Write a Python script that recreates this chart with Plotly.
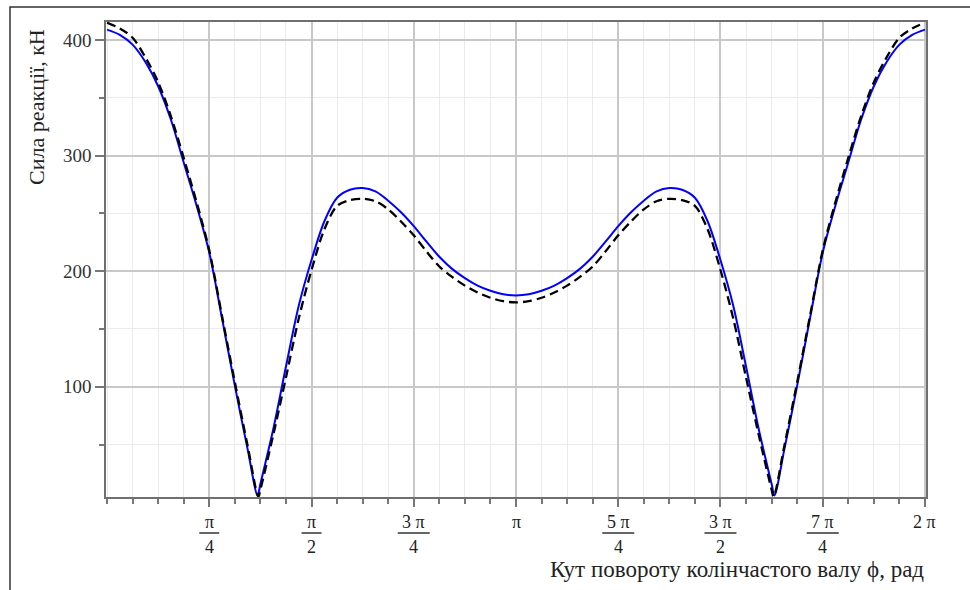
import numpy as np
import plotly.graph_objects as go

# angles in units of pi/32 rad
angle_blue = list(range(0, 12)) + [11.78] + list(range(12, 53)) + [52.22] + list(range(53, 65))
force_blue = [409, 404.5, 396, 381, 360, 331, 294, 257, 216, 159, 101, 46,
              6,
              16, 63, 117.5, 170, 209.6, 243, 263.5, 270.5, 272, 269, 261, 251, 239, 225.5, 212.5, 202,
              194, 187.5, 183, 180, 179,
              180, 183, 187.5, 194, 202, 212.5, 225.5, 239, 251, 261, 269, 272, 270.5, 263.5, 243,
              209.6, 170, 117.5, 63, 16,
              6,
              46, 101, 159, 216, 257, 294, 331, 360, 381, 396, 404.5, 409]

angle_dash = list(range(0, 12)) + [11.84] + list(range(12, 53)) + [52.16] + list(range(53, 65))
force_dash = [415, 410, 402, 385, 363.5, 334, 298, 260, 218, 161, 104, 49,
              5,
              11, 58, 108, 159, 201, 236, 256.5, 261.5, 262.6, 260.5, 253.5, 243, 231, 217, 204, 195,
              187.5, 181.5, 177, 174, 173,
              174, 177, 181.5, 187.5, 195, 204, 217, 231, 243, 253.5, 260.5, 262.6, 261.5, 256.5, 236,
              201, 159, 108, 58, 11,
              5,
              49, 104, 161, 218, 260, 298, 334, 363.5, 385, 402, 410, 415]

# x tick labels (multiples of pi/4)
xtick_quarters = [1, 2, 3, 4, 5, 6, 7, 8]
xtick_num = ["π", "π", "3 π", "π", "5 π", "3 π", "7 π", "2 π"]
xtick_den = ["4", "2", "4", "", "4", "2", "4", ""]
ytick_vals = [100, 200, 300, 400]

x_title = "Кут повороту колінчастого валу ϕ, рад"
y_title = "Сила реакції, кН"

xb = np.array(angle_blue) * np.pi / 32
xd = np.array(angle_dash) * np.pi / 32

L, R, T, B = 106, 44, 22, 93
W, H = 970, 590
pw, ph = W - L - R, H - T - B
xr = [-0.008, 2 * np.pi + 0.008]
px2data = (xr[1] - xr[0]) / pw

fig = go.Figure()
fig.add_trace(go.Scatter(x=xb, y=force_blue, mode="lines",
                         line=dict(color="#0000ff", width=2, shape="spline", smoothing=0.9),
                         showlegend=False, hoverinfo="skip"))
fig.add_trace(go.Scatter(x=xd, y=force_dash, mode="lines",
                         line=dict(color="#000000", width=2.3, dash="9px,5px", shape="spline", smoothing=0.9),
                         showlegend=False, hoverinfo="skip"))

serif = "Liberation Serif"
anns = []
shapes = []
for q, num, den in zip(xtick_quarters, xtick_num, xtick_den):
    xv = q * np.pi / 4
    anns.append(dict(x=xv, xref="x", y=(H - B - 522) / ph, yref="paper", text=num,
                     showarrow=False, xanchor="center", yanchor="middle",
                     font=dict(family=serif, size=18, color="#222")))
    if den:
        half_px = 10 if len(num) == 1 else 16
        shapes.append(dict(type="line", xref="x", yref="paper",
                           x0=xv - half_px * px2data, x1=xv + half_px * px2data,
                           y0=(H - B - 533) / ph, y1=(H - B - 533) / ph,
                           line=dict(color="#333", width=1.5)))
        anns.append(dict(x=xv, xref="x", y=(H - B - 547) / ph, yref="paper", text=den,
                         showarrow=False, xanchor="center", yanchor="middle",
                         font=dict(family=serif, size=18, color="#222")))

anns.append(dict(x=1.0, xref="paper", y=(H - B - 569) / ph, yref="paper", text=x_title,
                 showarrow=False, xanchor="right", yanchor="middle",
                 font=dict(family=serif, size=23, color="#222")))
anns.append(dict(x=(36 - L) / pw, xref="paper", y=(H - B - 27) / ph, yref="paper", text=y_title,
                 showarrow=False, xanchor="center", yanchor="top", textangle=-90,
                 font=dict(family=serif, size=22, color="#222")))

# outer frame of the picture
shapes.append(dict(type="rect", xref="paper", yref="paper",
                   x0=(10 - L) / pw, x1=(W + 20 - L) / pw,
                   y0=(H - B - (H + 20)) / ph, y1=(H - B - 7) / ph,
                   line=dict(color="#333", width=1.5), layer="below"))

fig.update_layout(
    width=W, height=H,
    margin=dict(l=L, r=R, t=T, b=B),
    paper_bgcolor="white", plot_bgcolor="white",
    annotations=anns, shapes=shapes,
    xaxis=dict(range=xr,
               tickmode="array", tickvals=[q * np.pi / 4 for q in xtick_quarters],
               showticklabels=False, ticks="outside", ticklen=8, tickwidth=1.5, tickcolor="#777",
               showgrid=True, gridcolor="#c8c8c8", gridwidth=1.5,
               showline=True, linecolor="#707070", linewidth=1.5, mirror=True, zeroline=False,
               minor=dict(tickmode="linear", tick0=0, dtick=np.pi / 16, ticks="outside", ticklen=5,
                          tickcolor="#777", showgrid=True, gridcolor="#ebebeb", gridwidth=1)),
    yaxis=dict(range=[4.6, 415.6],
               tickmode="array", tickvals=ytick_vals,
               ticks="outside", ticklen=9, tickwidth=1.5, tickcolor="#777",
               tickfont=dict(family=serif, size=19, color="#333"),
               showgrid=True, gridcolor="#c8c8c8", gridwidth=1.5,
               showline=True, linecolor="#707070", linewidth=1.5, mirror=True, zeroline=False,
               minor=dict(tickmode="linear", tick0=0, dtick=50, ticks="outside", ticklen=5,
                          tickcolor="#777", showgrid=True, gridcolor="#ebebeb", gridwidth=1)),
)

fig.write_html("out.html", config={"displayModeBar": False},
               post_script="document.body.style.margin='0px';")
